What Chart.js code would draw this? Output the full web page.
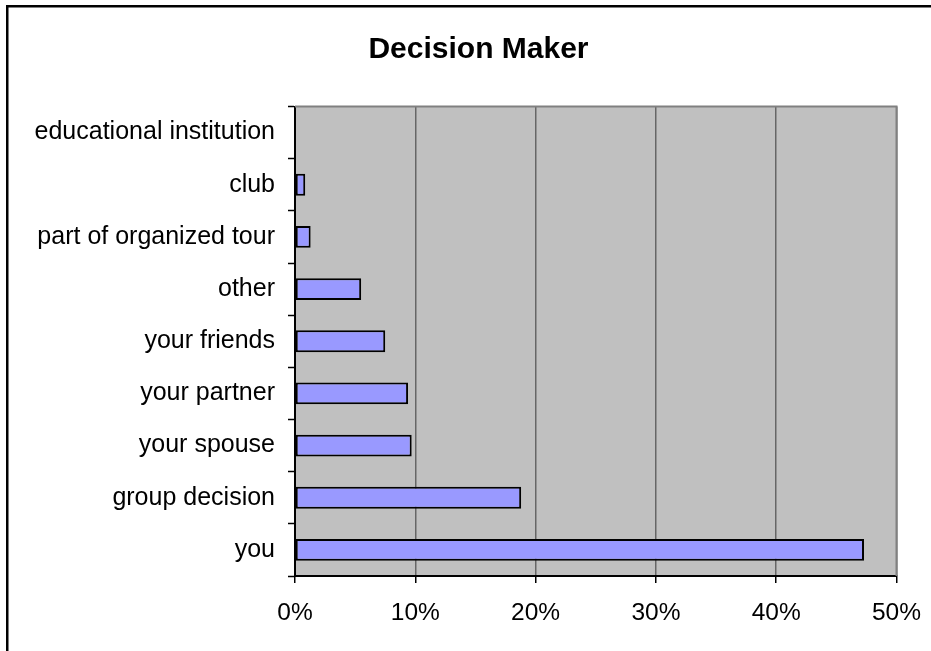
<!DOCTYPE html>
<html>
<head>
<meta charset="utf-8">
<script src="https://cdn.jsdelivr.net/npm/chart.js@4"></script>
<style>
  html, body { margin: 0; padding: 0; background: #fff; }
  #wrap { position: relative; width: 931px; height: 651px; }
</style>
</head>
<body>
<div id="wrap"><canvas id="c" width="931" height="651"></canvas></div>
<script>
const categories = ["educational institution", "club", "part of organized tour", "other", "your friends", "your partner", "your spouse", "group decision", "you"];
const shares = [0, 0.85, 1.3, 5.5, 7.5, 9.4, 9.7, 18.8, 47.3];
const xTicks = [0, 10, 20, 30, 40, 50];
const titleText = "Decision Maker";

const FONT = "'Liberation Sans', Arial, sans-serif";

const frame = {
  id: 'frame',
  beforeDraw(chart) {
    const { ctx, chartArea: a } = chart;
    ctx.save();
    ctx.fillStyle = '#fff';
    ctx.fillRect(0, 0, chart.width, chart.height);
    ctx.fillStyle = '#C0C0C0';
    ctx.fillRect(a.left, a.top, a.right - a.left, a.bottom - a.top);
    ctx.restore();
  },
  afterDraw(chart) {
    const { ctx, chartArea: a } = chart;
    ctx.save();
    ctx.strokeStyle = '#808080';
    ctx.lineWidth = 2;
    ctx.beginPath();
    ctx.moveTo(a.left, a.top);
    ctx.lineTo(a.right, a.top);
    ctx.lineTo(a.right, a.bottom);
    ctx.stroke();
    ctx.fillStyle = '#000';
    ctx.fillRect(6, 5, 2.5, chart.height);
    ctx.fillRect(6, 5, chart.width, 2.5);
    // chart title
    ctx.font = "bold 30px " + FONT;
    ctx.textAlign = 'center';
    ctx.textBaseline = 'alphabetic';
    ctx.fillText(titleText, 478.5, 58);
    ctx.restore();
  }
};

new Chart(document.getElementById('c'), {
  type: 'bar',
  data: {
    labels: categories,
    datasets: [{
      data: shares,
      backgroundColor: '#9999FF',
      borderColor: '#000',
      borderWidth: 2,
      borderSkipped: false,
      barPercentage: 0.42,
      categoryPercentage: 1
    }]
  },
  options: {
    indexAxis: 'y',
    responsive: false,
    animation: false,
    layout: { padding: { left: 0, right: 34.5, top: 106.5, bottom: 0 } },
    plugins: {
      legend: { display: false },
      tooltip: { enabled: false },
      title: { display: false }
    },
    scales: {
      x: {
        min: 0, max: 50,
        afterBuildTicks(scale) { scale.ticks = xTicks.map(v => ({ value: v })); },
        afterFit(scale) { scale.height = 75; scale.paddingLeft = 0; scale.paddingRight = 0; },
        ticks: {
          color: '#000',
          font: { family: FONT, size: 24.5 },
          padding: 16,
          maxRotation: 0,
          callback: v => v + '%'
        },
        grid: { color: '#666666', lineWidth: 1.5, tickLength: 7, tickColor: '#000', tickWidth: 1.5 },
        border: { color: '#000', width: 2 }
      },
      y: {
        afterFit(scale) { scale.width = 295; scale.paddingTop = 0; scale.paddingBottom = 0; },
        ticks: {
          color: '#000',
          font: { family: FONT, size: 25 },
          padding: 13
        },
        grid: { drawOnChartArea: false, offset: true, tickLength: 7, tickColor: '#000', tickWidth: 1.5 },
        border: { color: '#000', width: 2 }
      }
    }
  },
  plugins: [frame]
});
</script>
</body>
</html>
